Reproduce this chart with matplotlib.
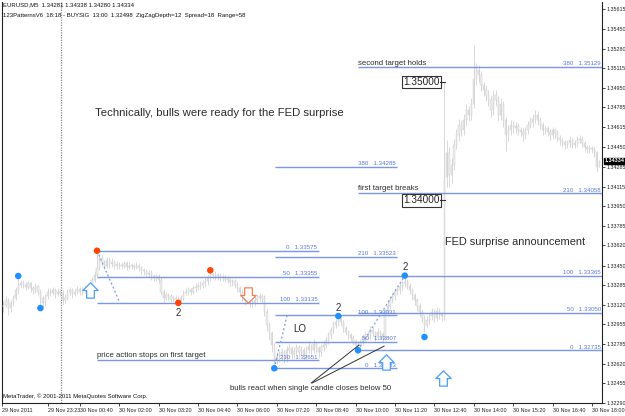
import matplotlib
matplotlib.use("Agg")
import matplotlib.pyplot as plt
from matplotlib.path import Path
import numpy as np

# ---------------- data ----------------
first_open = 1.3310
closes = [
 1.3312, 1.3316, 1.3309, 1.3313, 1.3318, 1.3324, 1.3329, 1.3330, 1.3329, 1.3327,
 1.3330, 1.3326, 1.3324, 1.3328, 1.3323, 1.3318, 1.3313, 1.3319, 1.3323, 1.3322,
 1.3324, 1.3321, 1.3323, 1.3322, 1.3316, 1.3318, 1.3323, 1.3324, 1.3321, 1.3323,
 1.3325, 1.3323, 1.3324, 1.3326, 1.3325, 1.3329, 1.3333, 1.3337, 1.3343, 1.3351,
 1.3348, 1.3345, 1.3350, 1.3346, 1.3348, 1.3345, 1.3346, 1.3345, 1.3345, 1.3347,
 1.3344, 1.3345, 1.3345, 1.3344, 1.3345, 1.3343, 1.3341, 1.3340, 1.3338, 1.3339,
 1.3336, 1.3335, 1.3336, 1.3333, 1.3323, 1.3318, 1.3320, 1.3319, 1.3316, 1.3318,
 1.3317, 1.3315, 1.3318, 1.3322, 1.3323, 1.3324, 1.3323, 1.3326, 1.3327, 1.3328,
 1.3329, 1.3330, 1.3332, 1.3335, 1.3337, 1.3338, 1.3336, 1.3337, 1.3335, 1.3335,
 1.3334, 1.3333, 1.3331, 1.3332, 1.3329, 1.3326, 1.3323, 1.3319, 1.3316, 1.3318,
 1.3314, 1.3313, 1.3316, 1.3318, 1.3319, 1.3318, 1.3306, 1.3295, 1.3288, 1.3278,
 1.3265, 1.3269, 1.3269, 1.3272, 1.3267, 1.3274, 1.3275, 1.3270, 1.3273, 1.3276,
 1.3272, 1.3274, 1.3269, 1.3274, 1.3277, 1.3274, 1.3279, 1.3275, 1.3272, 1.3276,
 1.3278, 1.3282, 1.3286, 1.3291, 1.3295, 1.3297, 1.3301, 1.3297, 1.3292, 1.3289,
 1.3286, 1.3284, 1.3281, 1.3278, 1.3277, 1.3280, 1.3284, 1.3287, 1.3286, 1.3291,
 1.3288, 1.3285, 1.3289, 1.3287, 1.3284, 1.3305, 1.3311, 1.3316, 1.3319, 1.3323,
 1.3324, 1.3327, 1.3330, 1.3331, 1.3328, 1.3324, 1.3320, 1.3316, 1.3311, 1.3306,
 1.3301, 1.3295, 1.3299, 1.3302, 1.3306, 1.3301, 1.3307, 1.3304, 1.3302, 1.3420,
 1.3440, 1.3421, 1.3430, 1.3447, 1.3455, 1.3464, 1.3459, 1.3468, 1.3476, 1.3472,
 1.3481, 1.3502, 1.3510, 1.3506, 1.3497, 1.3493, 1.3489, 1.3485, 1.3476, 1.3489,
 1.3485, 1.3472, 1.3481, 1.3468, 1.3455, 1.3459, 1.3464, 1.3461, 1.3463, 1.3459,
 1.3458, 1.3455, 1.3459, 1.3464, 1.3466, 1.3469, 1.3472, 1.3468, 1.3464, 1.3459,
 1.3461, 1.3458, 1.3455, 1.3459, 1.3457, 1.3453, 1.3451, 1.3449, 1.3447, 1.3448,
 1.3451, 1.3447, 1.3448, 1.3451, 1.3452, 1.3448, 1.3445, 1.3443, 1.3444, 1.3443,
 1.3441, 1.34281, 1.34334]
highs = [
 1.3315, 1.3319, 1.3318, 1.3316, 1.3320, 1.3327, 1.3336, 1.3333, 1.3333, 1.3331,
 1.3332, 1.3331, 1.3328, 1.3330, 1.3329, 1.3325, 1.3319, 1.3321, 1.3326, 1.3326,
 1.3327, 1.3326, 1.3326, 1.3325, 1.3324, 1.3321, 1.3325, 1.3327, 1.3326, 1.3326,
 1.3328, 1.3327, 1.3327, 1.3329, 1.3328, 1.3331, 1.3335, 1.3340, 1.33575, 1.3355,
 1.3354, 1.3350, 1.3352, 1.3352, 1.3351, 1.3350, 1.3349, 1.3348, 1.3348, 1.3349,
 1.3349, 1.3348, 1.3347, 1.3347, 1.3348, 1.3347, 1.3345, 1.3343, 1.3342, 1.3341,
 1.3341, 1.3338, 1.3338, 1.3338, 1.3335, 1.3325, 1.3323, 1.3322, 1.3321, 1.3320,
 1.3320, 1.3319, 1.3320, 1.3324, 1.3326, 1.3327, 1.3326, 1.3329, 1.3330, 1.3331,
 1.3332, 1.3333, 1.3335, 1.3337, 1.3341, 1.3339, 1.3340, 1.3339, 1.3339, 1.3338,
 1.3337, 1.3336, 1.3335, 1.3334, 1.3334, 1.3331, 1.3328, 1.3325, 1.3321, 1.3321,
 1.3320, 1.3317, 1.3319, 1.3321, 1.3322, 1.3321, 1.3320, 1.3308, 1.3297, 1.3290,
 1.3280, 1.3272, 1.3273, 1.3275, 1.3274, 1.3277, 1.3279, 1.3277, 1.3276, 1.3279,
 1.3278, 1.3277, 1.3276, 1.3277, 1.3281, 1.3279, 1.3283, 1.3281, 1.3277, 1.3279,
 1.3281, 1.3285, 1.3289, 1.3293, 1.3298, 1.3300, 1.33031, 1.3302, 1.3299, 1.3294,
 1.3291, 1.3288, 1.3286, 1.3283, 1.3281, 1.3283, 1.3287, 1.3290, 1.3290, 1.3294,
 1.3293, 1.3290, 1.3292, 1.3291, 1.3289, 1.3308, 1.3314, 1.3319, 1.3322, 1.3326,
 1.3327, 1.3330, 1.3333, 1.33365, 1.3334, 1.3330, 1.3326, 1.3322, 1.3318, 1.3313,
 1.3308, 1.3303, 1.3302, 1.3305, 1.3309, 1.3308, 1.3310, 1.3309, 1.3306, 1.3500,
 1.3451, 1.3445, 1.3436, 1.3452, 1.3460, 1.3469, 1.3468, 1.3473, 1.3481, 1.3480,
 1.3486, 1.3531, 1.3516, 1.3514, 1.3509, 1.3500, 1.3497, 1.3493, 1.3488, 1.3493,
 1.3493, 1.3488, 1.3486, 1.3484, 1.3470, 1.3464, 1.3468, 1.3467, 1.3466, 1.3465,
 1.3462, 1.3461, 1.3462, 1.3467, 1.3470, 1.3473, 1.3476, 1.3475, 1.3470, 1.3466,
 1.3464, 1.3463, 1.3460, 1.3462, 1.3461, 1.3459, 1.3455, 1.3453, 1.3451, 1.3451,
 1.3454, 1.3453, 1.3451, 1.3454, 1.3455, 1.3454, 1.3450, 1.3447, 1.3447, 1.3446,
 1.3445, 1.3442, 1.34338]
lows = [
 1.3306, 1.3310, 1.3303, 1.3306, 1.3311, 1.3316, 1.3321, 1.3326, 1.3326, 1.3324,
 1.3325, 1.3323, 1.3321, 1.3322, 1.3320, 1.3309, 1.3310, 1.3311, 1.3317, 1.3319,
 1.3320, 1.3318, 1.3319, 1.3319, 1.3312, 1.3313, 1.3316, 1.3320, 1.3318, 1.3319,
 1.3321, 1.3320, 1.3320, 1.3322, 1.3322, 1.3323, 1.3327, 1.3331, 1.3335, 1.3341,
 1.3345, 1.3342, 1.3343, 1.3343, 1.3344, 1.3342, 1.3342, 1.3342, 1.3342, 1.3343,
 1.3341, 1.3342, 1.3342, 1.3341, 1.3342, 1.3340, 1.3338, 1.3337, 1.3335, 1.3335,
 1.3333, 1.3332, 1.3332, 1.3330, 1.3320, 1.3314, 1.3316, 1.3316, 1.3314, 1.3314,
 1.3315, 1.33135, 1.3315, 1.3316, 1.3320, 1.3320, 1.3320, 1.3321, 1.3323, 1.3324,
 1.3325, 1.3326, 1.3327, 1.3329, 1.3332, 1.3334, 1.3333, 1.3333, 1.3332, 1.3332,
 1.3331, 1.3330, 1.3328, 1.3328, 1.3326, 1.3323, 1.3319, 1.3315, 1.3312, 1.3313,
 1.3310, 1.3309, 1.3311, 1.3314, 1.3315, 1.3314, 1.3302, 1.3290, 1.3282, 1.3272,
 1.32583, 1.3262, 1.3264, 1.3265, 1.3263, 1.3264, 1.3270, 1.3266, 1.3267, 1.3270,
 1.3268, 1.3269, 1.3265, 1.3266, 1.3271, 1.3270, 1.3271, 1.3271, 1.3268, 1.3269,
 1.3273, 1.3275, 1.3279, 1.3283, 1.3288, 1.3292, 1.3294, 1.3294, 1.3289, 1.3286,
 1.3283, 1.3281, 1.3278, 1.3276, 1.32735, 1.3275, 1.3278, 1.3281, 1.3283, 1.3283,
 1.3285, 1.3281, 1.3282, 1.3284, 1.3280, 1.3282, 1.3302, 1.3308, 1.3313, 1.3316,
 1.3320, 1.3321, 1.3324, 1.3327, 1.3325, 1.3321, 1.3316, 1.3312, 1.3307, 1.3302,
 1.3297, 1.3289, 1.3293, 1.3296, 1.3299, 1.3297, 1.3298, 1.3300, 1.3298, 1.3299,
 1.3411, 1.3411, 1.3415, 1.3426, 1.3443, 1.3450, 1.3454, 1.3455, 1.3463, 1.3467,
 1.3468, 1.3478, 1.3497, 1.3500, 1.3492, 1.3488, 1.3484, 1.3480, 1.3470, 1.3472,
 1.3480, 1.3467, 1.3468, 1.3462, 1.3442, 1.3450, 1.3455, 1.3457, 1.3457, 1.3455,
 1.3454, 1.3450, 1.3452, 1.3456, 1.3461, 1.3462, 1.3465, 1.3464, 1.3460, 1.3455,
 1.3456, 1.3454, 1.3451, 1.3452, 1.3453, 1.3449, 1.3447, 1.3445, 1.3443, 1.3444,
 1.3445, 1.3444, 1.3444, 1.3445, 1.3448, 1.3445, 1.3442, 1.3440, 1.3440, 1.3440,
 1.3437, 1.3424, 1.34280]

# Fibonacci tools: levels and prices
fib_left_levels = ["0", "50", "100", "210"]
fib_left_prices = [1.33575, 1.33355, 1.33135, 1.32651]
fib_mid_levels = ["0", "50", "100", "210", "380"]
fib_mid_prices = [1.32583, 1.32807, 1.33031, 1.33523, 1.34285]
fib_right_levels = ["0", "50", "100", "210", "380"]
fib_right_prices = [1.32735, 1.33050, 1.33365, 1.34058, 1.35129]

# zigzag swing markers
zz_bars = [6, 15, 38, 71, 84, 110, 136, 144, 163, 171]
zz_prices = [1.33362, 1.33091, 1.33575, 1.33135, 1.33410, 1.32583, 1.33024, 1.32735, 1.33365, 1.32847]
zz_colors = ["#1e90ff", "#1e90ff", "#ff4500", "#ff4500", "#ff4500",
             "#1e90ff", "#1e90ff", "#1e90ff", "#1e90ff", "#1e90ff"]

y_ticks = [1.35615, 1.35450, 1.35280, 1.35115, 1.34950, 1.34785, 1.34615, 1.34450,
           1.34285, 1.34115, 1.33950, 1.33785, 1.33620, 1.33450, 1.33285, 1.33120,
           1.32955, 1.32785, 1.32620, 1.32455, 1.32290]
x_tick_bars = [-0.5, 18, 31, 47, 63, 79, 95, 111, 127, 143, 159, 175, 191, 207, 223, 239]
x_tick_labels = ["29 Nov 2011", "29 Nov 23:23", "30 Nov 00:40", "30 Nov 02:00",
                 "30 Nov 03:20", "30 Nov 04:40", "30 Nov 06:00", "30 Nov 07:20",
                 "30 Nov 08:40", "30 Nov 10:00", "30 Nov 11:20", "30 Nov 12:40",
                 "30 Nov 14:00", "30 Nov 15:20", "30 Nov 16:40", "30 Nov 18:00"]
last_price = 1.34334

# ---------------- drawing ----------------
FONT = "Liberation Sans"
plt.rcParams["font.family"] = [FONT, "DejaVu Sans"]
SMALL = 3.9

fig = plt.figure(figsize=(6.25, 4.16), dpi=100, facecolor="white")
ax = fig.add_axes([2 / 625, 13 / 416, 600 / 625, 401 / 416])
ax.set_xlim(-0.6, 243.1)
ax.set_ylim(1.32290, 1.35674)

n = len(closes)
xs = np.arange(n)
opens = np.array([first_open] + closes[:-1])
c = np.array(closes)
ax.vlines(xs, lows, highs, color="#d2d2d2", lw=0.6, zorder=2)
body_b = np.minimum(opens, c)
body_h = np.maximum(np.abs(c - opens), 0.00003)
ax.bar(xs, body_h, bottom=body_b, width=0.5, color="#eeeeee",
       edgecolor="#cfcfcf", linewidth=0.35, zorder=3)

# period separator
ax.axvline(23.4, color="#888888", ls=(0, (1, 1)), lw=0.9, zorder=1)

fib_col = "#7a96e6"
lab_col = "#5a78d8"

def draw_fib(x0, x1, levels, prices, xlab):
    for lv, p in zip(levels, prices):
        ax.hlines(p, x0, x1, color=fib_col, lw=1.0, zorder=4)
        ax.text(xlab, p + 0.00004, f"{lv}   {p:.5f}", ha="right", va="bottom",
                fontsize=4.4, color=lab_col, zorder=5)

draw_fib(38, 128, fib_left_levels, fib_left_prices, 127.5)
draw_fib(110.3, 160, fib_mid_levels, fib_mid_prices, 159.5)
draw_fib(144, 243.1, fib_right_levels, fib_right_prices, 242.6)

# fib anchor dotted lines
ax.plot([38, 47.3], [fib_left_prices[0], fib_left_prices[2]], ls=(0, (1.5, 2)),
        color=fib_col, lw=0.9, zorder=4)
ax.plot([110, 115.2], [fib_mid_prices[0], fib_mid_prices[2]], ls=(0, (1.5, 2)),
        color=fib_col, lw=0.9, zorder=4)
ax.plot([144, 163], [fib_right_prices[0], fib_right_prices[2]], ls=(0, (1.5, 2)),
        color=fib_col, lw=0.9, zorder=4)

# zigzag dots
ax.scatter(zz_bars, zz_prices, s=22, c=zz_colors, zorder=6, linewidths=0)

# "2" labels
for b, p, dy in [(71, 1.33135, -0.00085), (136, 1.33024, 0.0007), (163, 1.33365, 0.0007)]:
    ax.text(b, p + dy, "2", ha="center", va="center", fontsize=7, color="#333333", zorder=6)

# arrows
up = Path([(-0.25, -0.5), (0.25, -0.5), (0.25, 0.0), (0.5, 0.0), (0.0, 0.5),
           (-0.5, 0.0), (-0.25, 0.0), (-0.25, -0.5)],
          [Path.MOVETO] + [Path.LINETO] * 6 + [Path.CLOSEPOLY])
down = Path([(-0.25, 0.5), (0.25, 0.5), (0.25, 0.0), (0.5, 0.0), (0.0, -0.5),
             (-0.5, 0.0), (-0.25, 0.0), (-0.25, 0.5)],
            [Path.MOVETO] + [Path.LINETO] * 6 + [Path.CLOSEPOLY])
for b, p in [(35, 1.3324), (155.5, 1.3264), (178.5, 1.3250)]:
    ax.plot(b, p, marker=up, ms=11, mfc="white", mec="#4a9ff5", mew=0.9, zorder=7)
ax.plot(99.5, 1.3320, marker=down, ms=11, mfc="white", mec="#f08050", mew=0.9, zorder=7)

# annotation texts
tc = "#2a2a2a"
ax.text(37.2, 1.34737, "Technically, bulls were ready for the FED surprise",
        fontsize=8.2, color=tc, va="center", ha="left", zorder=8)
ax.text(179.4, 1.33649, "FED surprise announcement", fontsize=7.9, color=tc,
        va="center", ha="left", zorder=8)
ax.text(117.6, 1.32914, "LO", fontsize=7, color=tc, va="center", ha="left", zorder=8)
ax.text(38, 1.32695, "price action stops on first target", fontsize=5.6, color=tc,
        va="center", ha="left", zorder=8)
ax.text(144, 1.35151, "second target holds", fontsize=5.6, color=tc,
        va="center", ha="left", zorder=8)
ax.text(144, 1.34100, "first target breaks", fontsize=5.6, color=tc,
        va="center", ha="left", zorder=8)
ax.text(92, 1.32416, "bulls react when single candle closes below 50", fontsize=5.6,
        color=tc, va="center", ha="left", zorder=8)

# pointer lines
ax.plot([125, 144.4], [1.32459, 1.32779], color="#333333", lw=0.7, zorder=8)
ax.plot([125.4, 154.6], [1.32459, 1.32770], color="#333333", lw=0.7, zorder=8)

# price boxes
for p, lab in [(1.35000, "1.35000"), (1.34000, "1.34000")]:
    ax.text(177.2, p, lab, ha="right", va="center", fontsize=7.2, color="#222222",
            bbox=dict(boxstyle="square,pad=0.12", fc="white", ec="#333333", lw=0.8),
            zorder=9)
    ax.plot([177.4, 179.4], [p, p], color="#333333", lw=0.8, zorder=9)

# axes styling
ax.spines["top"].set_visible(False)
for s in ["left", "right", "bottom"]:
    ax.spines[s].set_color("#222222")
    ax.spines[s].set_linewidth(0.8)
ax.yaxis.tick_right()
ax.set_yticks(y_ticks)
ax.set_yticklabels([f"{v:.5f}" for v in y_ticks])
ax.tick_params(axis="y", length=2, width=0.6, labelsize=SMALL, pad=1, colors="#222222")
ax.set_xticks(x_tick_bars)
ax.set_xticklabels(x_tick_labels)
ax.tick_params(axis="x", length=2, width=0.6, labelsize=SMALL, pad=1.5, colors="#222222")
for t in ax.get_xticklabels():
    t.set_ha("left")

# current price label
ax.annotate(f"{last_price:.5f}", xy=(1.0, last_price), xycoords=("axes fraction", "data"),
            xytext=(2, 0), textcoords="offset points", ha="left", va="center",
            fontsize=SMALL, color="white", fontweight="bold",
            bbox=dict(boxstyle="square,pad=0.12", fc="black", ec="black"), zorder=10,
            annotation_clip=False)

# header / footer
fig.text(3 / 625, 1 - 5 / 416, "EURUSD,M5  1.34281 1.34338 1.34280 1.34334",
         fontsize=4.3, color="#111111", va="center", ha="left")
fig.text(3 / 625, 1 - 15 / 416,
         "123PatternsV6  18:18 - BUYSIG  13:00  1.32498  ZigZagDepth=12  Spread=18  Range=58",
         fontsize=4.3, color="#111111", va="center", ha="left")
fig.text(3 / 625, 1 - 396 / 416, "MetaTrader, \u00a9 2001-2011 MetaQuotes Software Corp.",
         fontsize=4.3, color="#111111", va="center", ha="left")

fig.savefig("out.png", dpi=100, facecolor="white")
